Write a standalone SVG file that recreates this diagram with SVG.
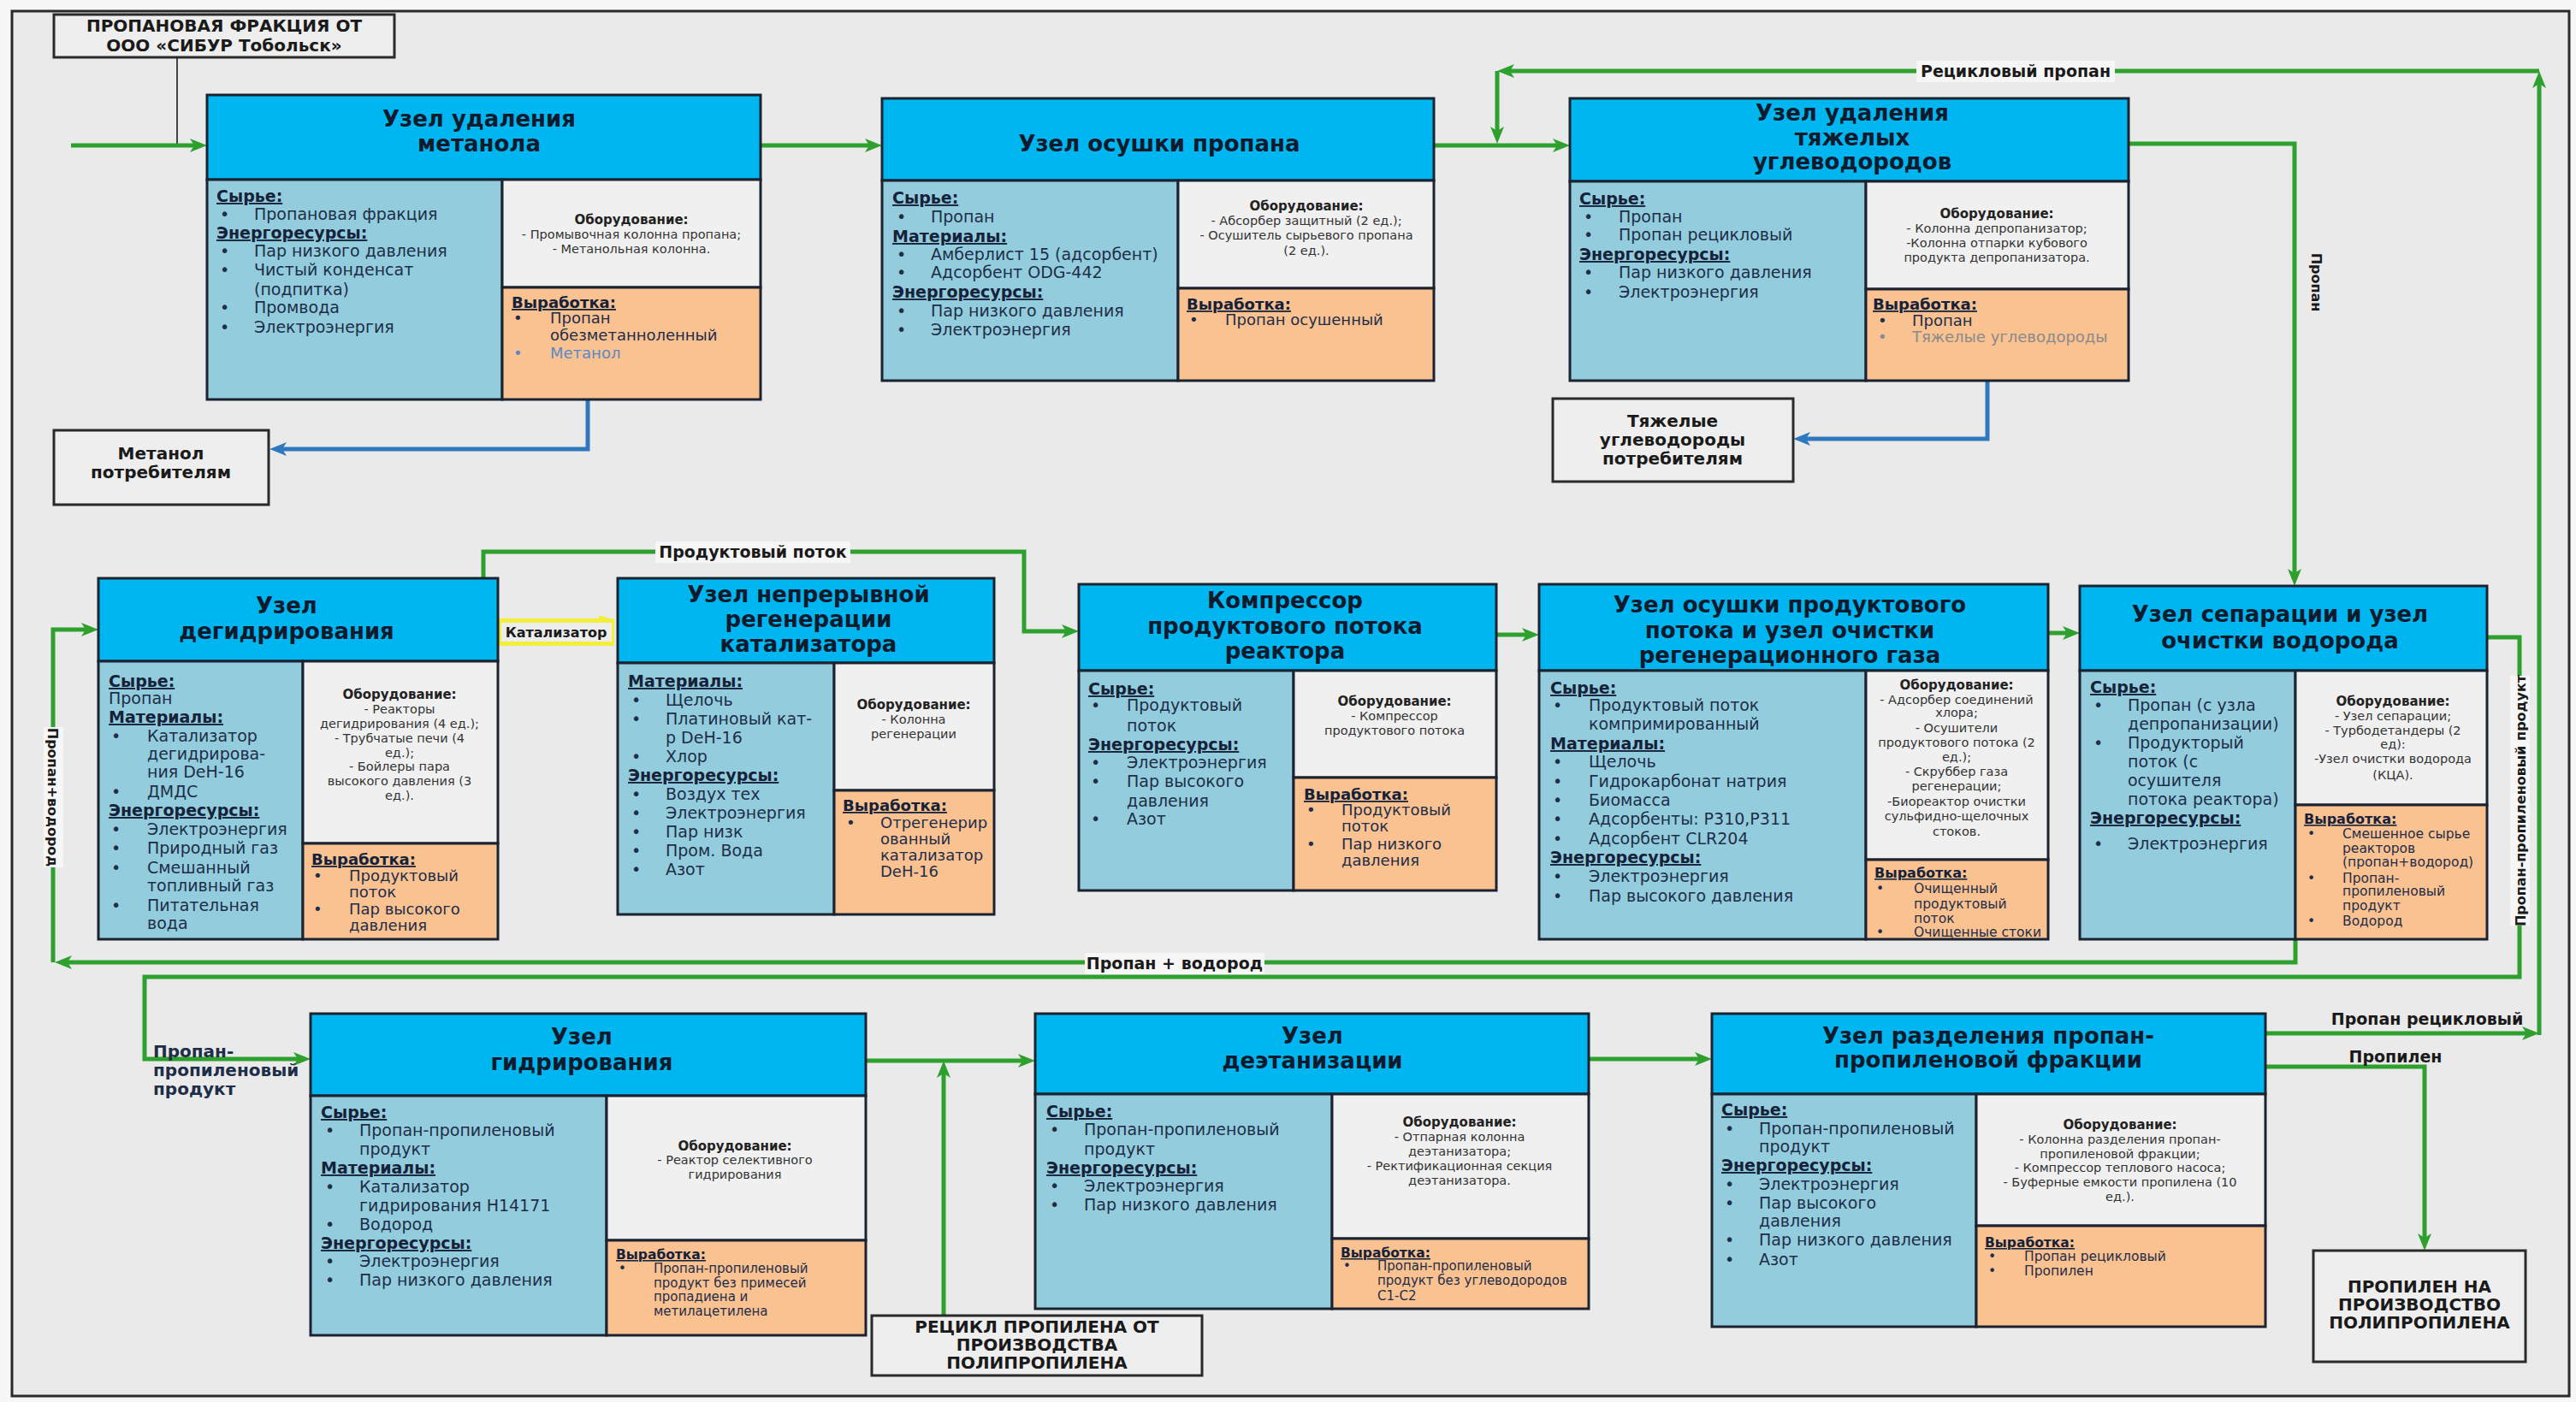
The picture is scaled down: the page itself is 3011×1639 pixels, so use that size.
<svg xmlns="http://www.w3.org/2000/svg" width="3011" height="1639" viewBox="0 0 3011 1639">
<defs>
<style>
.hd{fill:#00B6F1;stroke:#1b2230;stroke-width:3}
.rw{fill:#93CDDD;stroke:#1b2230;stroke-width:3}
.eq{fill:#F0F0F0;stroke:#1b2230;stroke-width:3}
.ou{fill:#FAC191;stroke:#1b2230;stroke-width:3}
.xb{fill:#EEEEEE;stroke:#2a2a2a;stroke-width:3}
text{font-family:"DejaVu Sans","Liberation Sans",sans-serif;fill:#1E2E48}
.ti{font-weight:bold;font-size:26px;text-anchor:middle;fill:#0F1A2C}
.b{font-size:19px}
.s{font-size:19px;font-weight:bold;text-decoration:underline;fill:#15223A}
.eh{font-size:15px;font-weight:bold;text-anchor:middle;fill:#222}
.e{font-size:14.5px;text-anchor:middle;fill:#333}
.oh{font-weight:bold;text-decoration:underline;fill:#15223A}
.xt{font-size:20px;font-weight:bold;text-anchor:middle;fill:#1a1a1a}
.cl{font-size:19px;font-weight:bold;text-anchor:middle;fill:#1a1a1a}
.cv{font-size:16px;font-weight:bold;text-anchor:middle;fill:#1a1a1a}
.g{fill:none;stroke:#2EA02E;stroke-width:5}
.bl{fill:none;stroke:#2E78C0;stroke-width:5}
.lb{fill:#F6F6F6}
</style>
<marker id="mg" viewBox="0 0 20 16" refX="8" refY="8" markerWidth="20" markerHeight="16" markerUnits="userSpaceOnUse" orient="auto"><path d="M0,0 L20,8 L0,16 L5,8 z" fill="#2EA02E"/></marker>
<marker id="mb" viewBox="0 0 20 16" refX="8" refY="8" markerWidth="20" markerHeight="16" markerUnits="userSpaceOnUse" orient="auto"><path d="M0,0 L20,8 L0,16 L5,8 z" fill="#2E78C0"/></marker>
</defs>
<rect x="0" y="0" width="3011" height="1639" fill="#F7F7F7"/>
<rect x="14" y="13" width="2989" height="1619" fill="#EAEAEA" stroke="#2a2a2a" stroke-width="3"/>

<g id="connectors">
<path d="M207,67 V170" fill="none" stroke="#444" stroke-width="2"/>
<path class="g" d="M83,170 H230" marker-end="url(#mg)"/>
<path class="g" d="M889,170 H1019" marker-end="url(#mg)"/>
<path class="g" d="M1676,170 H1823" marker-end="url(#mg)"/>
<path class="g" d="M2648,1208 H2956" marker-end="url(#mg)"/>
<path class="g" d="M2968,1210 V95" marker-end="url(#mg)"/>
<path class="g" d="M2968,83 H1762" marker-end="url(#mg)"/>
<path class="g" d="M1750,83 V156" marker-end="url(#mg)"/>
<rect class="lb" x="2240" y="71" width="232" height="25"/>
<text class="cl" x="2356" y="90">Рецикловый пропан</text>
<path class="g" d="M2488,168 H2682 V673" marker-end="url(#mg)"/>
<text class="cv" x="2708" y="336" transform="rotate(90 2708 330)">Пропан</text>
<path class="bl" d="M687,467 V525 H327" marker-end="url(#mb)"/>
<path class="bl" d="M2323,445 V513 H2108" marker-end="url(#mb)"/>
<path class="g" d="M565,676 V645 H1197 V738 H1249" marker-end="url(#mg)"/>
<rect class="lb" x="766" y="633" width="228" height="25"/>
<text class="cl" x="880" y="652">Продуктовый поток</text>
<rect x="583" y="723" width="135" height="32" fill="#F3EE3C"/>
<path d="M700,719 L718,725 L700,729 z" fill="#F3EE3C"/>
<rect x="586" y="728" width="129" height="22" fill="#EDEDED"/>
<text class="cv" x="650" y="745">Катализатор</text>
<path class="g" d="M1749,742 H1787" marker-end="url(#mg)"/>
<path class="g" d="M2394,740 H2419" marker-end="url(#mg)"/>
<path class="g" d="M2683,1098 V1125 H76" marker-end="url(#mg)"/>
<path class="g" d="M62,1125 V736 H103" marker-end="url(#mg)"/>
<rect class="lb" x="1268" y="1114" width="210" height="25"/>
<text class="cl" x="1373" y="1133">Пропан + водород</text>
<g transform="rotate(90 62 932)">
<rect class="lb" x="-20" y="920" width="164" height="23"/>
<text class="cv" x="62" y="938">Пропан+водород</text>
</g>
<path class="g" d="M2907,745 H2945 V1142 H169 V1238 H351" marker-end="url(#mg)"/>
<g transform="rotate(-90 2946 936)">
<rect class="lb" x="2800" y="924" width="292" height="23"/>
<text class="cv" x="2946" y="942">Пропан-пропиленовый продукт</text>
</g>
<text font-size="20" font-weight="bold" fill="#1a1a1a"><tspan x="179" y="1236">Пропан-</tspan><tspan x="179" y="1258">пропиленовый</tspan><tspan x="179" y="1280">продукт</tspan></text>
<path class="g" d="M1012,1240 H1198" marker-end="url(#mg)"/>
<path class="g" d="M1103,1538 V1252" marker-end="url(#mg)"/>
<path class="g" d="M1857,1238 H1989" marker-end="url(#mg)"/>
<path class="g" d="M2648,1247 H2834 V1450" marker-end="url(#mg)"/>
<text class="cl" x="2837" y="1198">Пропан рецикловый</text>
<text class="cl" x="2800" y="1242">Пропилен</text>
</g>

<g id="src">
<rect class="xb" x="63" y="17" width="398" height="50"/>
<text class="xt" font-size="20.5"><tspan x="262" y="37">ПРОПАНОВАЯ ФРАКЦИЯ ОТ</tspan><tspan x="262" y="60">ООО «СИБУР Тобольск»</tspan></text>
</g>
<g id="methanol-out">
<rect class="xb" x="63" y="503" width="251" height="87"/>
<text class="xt" font-size="19"><tspan x="188" y="537">Метанол</tspan><tspan x="188" y="559">потребителям</tspan></text>
</g>
<g id="heavy-out">
<rect class="xb" x="1815" y="466" width="281" height="97"/>
<text class="xt" font-size="19"><tspan x="1955" y="499">Тяжелые</tspan><tspan x="1955" y="521">углеводороды</tspan><tspan x="1955" y="543">потребителям</tspan></text>
</g>
<g id="recycle-in">
<rect class="xb" x="1019" y="1538" width="386" height="70"/>
<text class="xt"><tspan x="1212" y="1558">РЕЦИКЛ ПРОПИЛЕНА ОТ</tspan><tspan x="1212" y="1579">ПРОИЗВОДСТВА</tspan><tspan x="1212" y="1600">ПОЛИПРОПИЛЕНА</tspan></text>
</g>
<g id="propylene-out">
<rect class="xb" x="2704" y="1462" width="248" height="130"/>
<text class="xt"><tspan x="2828" y="1511">ПРОПИЛЕН НА</tspan><tspan x="2828" y="1532">ПРОИЗВОДСТВО</tspan><tspan x="2828" y="1553">ПОЛИПРОПИЛЕНА</tspan></text>
</g>

<g id="n1">
<rect class="hd" x="242" y="111" width="647" height="99"/>
<rect class="rw" x="242" y="210" width="345" height="257"/>
<rect class="eq" x="587" y="210" width="302" height="126"/>
<rect class="ou" x="587" y="336" width="302" height="131"/>
<text class="ti"><tspan x="560" y="148">Узел удаления</tspan><tspan x="560" y="177">метанола</tspan></text>
<text class="s" x="253" y="236">Сырье:</text>
<text class="b" y="257"><tspan x="257">•</tspan><tspan x="297">Пропановая фракция</tspan></text>
<text class="s" x="253" y="279">Энергоресурсы:</text>
<text class="b" y="300"><tspan x="257">•</tspan><tspan x="297">Пар низкого давления</tspan></text>
<text class="b" y="322"><tspan x="257">•</tspan><tspan x="297">Чистый конденсат</tspan></text>
<text class="b" x="297" y="345">(подпитка)</text>
<text class="b" y="366"><tspan x="257">•</tspan><tspan x="297">Промвода</tspan></text>
<text class="b" y="389"><tspan x="257">•</tspan><tspan x="297">Электроэнергия</tspan></text>
<text class="eh" x="738" y="262">Оборудование:</text>
<text class="e" x="738" y="279">- Промывочная колонна пропана;</text>
<text class="e" x="738" y="296">- Метанольная колонна.</text>
<text class="oh" font-size="18" x="598" y="360">Выработка:</text>
<text font-size="18" y="378"><tspan x="600">•</tspan><tspan x="643">Пропан</tspan></text>
<text font-size="18" x="643" y="398">обезметанноленный</text>
<text font-size="18" y="419" fill="#5A8AC6"><tspan x="600" fill="#5A8AC6">•</tspan><tspan x="643" fill="#5A8AC6">Метанол</tspan></text>
</g>

<g id="n2">
<rect class="hd" x="1031" y="115" width="645" height="96"/>
<rect class="rw" x="1031" y="211" width="346" height="234"/>
<rect class="eq" x="1377" y="211" width="299" height="126"/>
<rect class="ou" x="1377" y="337" width="299" height="108"/>
<text class="ti" x="1355" y="177">Узел осушки пропана</text>
<text class="s" x="1043" y="238">Сырье:</text>
<text class="b" y="260"><tspan x="1048">•</tspan><tspan x="1088">Пропан</tspan></text>
<text class="s" x="1043" y="283">Материалы:</text>
<text class="b" y="304"><tspan x="1048">•</tspan><tspan x="1088">Амберлист 15 (адсорбент)</tspan></text>
<text class="b" y="325"><tspan x="1048">•</tspan><tspan x="1088">Адсорбент ODG-442</tspan></text>
<text class="s" x="1043" y="348">Энергоресурсы:</text>
<text class="b" y="370"><tspan x="1048">•</tspan><tspan x="1088">Пар низкого давления</tspan></text>
<text class="b" y="392"><tspan x="1048">•</tspan><tspan x="1088">Электроэнергия</tspan></text>
<text class="eh" x="1527" y="246">Оборудование:</text>
<text class="e" x="1527" y="263">- Абсорбер защитный (2 ед.);</text>
<text class="e" x="1527" y="280">- Осушитель сырьевого пропана</text>
<text class="e" x="1527" y="298">(2 ед.).</text>
<text class="oh" font-size="18" x="1387" y="362">Выработка:</text>
<text font-size="18" y="380"><tspan x="1390">•</tspan><tspan x="1432">Пропан осушенный</tspan></text>
</g>

<g id="n3">
<rect class="hd" x="1835" y="115" width="653" height="97"/>
<rect class="rw" x="1835" y="212" width="346" height="233"/>
<rect class="eq" x="2181" y="212" width="307" height="126"/>
<rect class="ou" x="2181" y="338" width="307" height="107"/>
<text class="ti"><tspan x="2165" y="141">Узел удаления</tspan><tspan x="2165" y="170">тяжелых</tspan><tspan x="2165" y="198">углеводородов</tspan></text>
<text class="s" x="1846" y="239">Сырье:</text>
<text class="b" y="260"><tspan x="1851">•</tspan><tspan x="1892">Пропан</tspan></text>
<text class="b" y="281"><tspan x="1851">•</tspan><tspan x="1892">Пропан рецикловый</tspan></text>
<text class="s" x="1846" y="304">Энергоресурсы:</text>
<text class="b" y="325"><tspan x="1851">•</tspan><tspan x="1892">Пар низкого давления</tspan></text>
<text class="b" y="348"><tspan x="1851">•</tspan><tspan x="1892">Электроэнергия</tspan></text>
<text class="eh" x="2334" y="255">Оборудование:</text>
<text class="e" x="2334" y="272">- Колонна депропанизатор;</text>
<text class="e" x="2334" y="289">-Колонна отпарки кубового</text>
<text class="e" x="2334" y="306">продукта депропанизатора.</text>
<text class="oh" font-size="18" x="2189" y="362">Выработка:</text>
<text font-size="18" y="381"><tspan x="2195">•</tspan><tspan x="2235">Пропан</tspan></text>
<text font-size="18" y="400"><tspan x="2195" fill="#8A8A8A">•</tspan><tspan x="2235" fill="#8A8A8A">Тяжелые углеводороды</tspan></text>
</g>

<g id="n4">
<rect class="hd" x="115" y="676" width="467" height="97"/>
<rect class="rw" x="115" y="773" width="239" height="325"/>
<rect class="eq" x="354" y="773" width="228" height="213"/>
<rect class="ou" x="354" y="986" width="228" height="112"/>
<text class="ti"><tspan x="335" y="717">Узел</tspan><tspan x="335" y="747">дегидрирования</tspan></text>
<text class="s" x="127" y="803">Сырье:</text>
<text class="b" x="127" y="823">Пропан</text>
<text class="s" x="127" y="845">Материалы:</text>
<text class="b" y="867"><tspan x="130">•</tspan><tspan x="172">Катализатор</tspan></text>
<text class="b" x="172" y="888">дегидрирова-</text>
<text class="b" x="172" y="909">ния DeH-16</text>
<text class="b" y="932"><tspan x="130">•</tspan><tspan x="172">ДМДС</tspan></text>
<text class="s" x="127" y="954">Энергоресурсы:</text>
<text class="b" y="976"><tspan x="130">•</tspan><tspan x="172">Электроэнергия</tspan></text>
<text class="b" y="998"><tspan x="130">•</tspan><tspan x="172">Природный газ</tspan></text>
<text class="b" y="1021"><tspan x="130">•</tspan><tspan x="172">Смешанный</tspan></text>
<text class="b" x="172" y="1042">топливный газ</text>
<text class="b" y="1065"><tspan x="130">•</tspan><tspan x="172">Питательная</tspan></text>
<text class="b" x="172" y="1086">вода</text>
<text class="eh" x="467" y="817">Оборудование:</text>
<text class="e" x="467" y="834">- Реакторы</text>
<text class="e" x="467" y="851">дегидрирования (4 ед.);</text>
<text class="e" x="467" y="868">- Трубчатые печи (4</text>
<text class="e" x="467" y="885">ед.);</text>
<text class="e" x="467" y="901">- Бойлеры пара</text>
<text class="e" x="467" y="918">высокого давления (3</text>
<text class="e" x="467" y="935">ед.).</text>
<text class="oh" font-size="18" x="364" y="1011">Выработка:</text>
<text font-size="18" y="1030"><tspan x="366">•</tspan><tspan x="408">Продуктовый</tspan></text>
<text font-size="18" x="408" y="1049">поток</text>
<text font-size="18" y="1069"><tspan x="366">•</tspan><tspan x="408">Пар высокого</tspan></text>
<text font-size="18" x="408" y="1088">давления</text>
</g>

<g id="n5">
<rect class="hd" x="722" y="676" width="440" height="99"/>
<rect class="rw" x="722" y="775" width="253" height="294"/>
<rect class="eq" x="975" y="775" width="187" height="149"/>
<rect class="ou" x="975" y="924" width="187" height="145"/>
<text class="ti"><tspan x="945" y="704">Узел непрерывной</tspan><tspan x="945" y="733">регенерации</tspan><tspan x="945" y="762">катализатора</tspan></text>
<text class="s" x="734" y="803">Материалы:</text>
<text class="b" y="825"><tspan x="738">•</tspan><tspan x="778">Щелочь</tspan></text>
<text class="b" y="847"><tspan x="738">•</tspan><tspan x="778">Платиновый кат-</tspan></text>
<text class="b" x="778" y="869">р DeH-16</text>
<text class="b" y="891"><tspan x="738">•</tspan><tspan x="778">Хлор</tspan></text>
<text class="s" x="734" y="913">Энергоресурсы:</text>
<text class="b" y="935"><tspan x="738">•</tspan><tspan x="778">Воздух тех</tspan></text>
<text class="b" y="957"><tspan x="738">•</tspan><tspan x="778">Электроэнергия</tspan></text>
<text class="b" y="979"><tspan x="738">•</tspan><tspan x="778">Пар низк</tspan></text>
<text class="b" y="1001"><tspan x="738">•</tspan><tspan x="778">Пром. Вода</tspan></text>
<text class="b" y="1023"><tspan x="738">•</tspan><tspan x="778">Азот</tspan></text>
<text class="eh" x="1068" y="829">Оборудование:</text>
<text class="e" x="1068" y="846">- Колонна</text>
<text class="e" x="1068" y="863">регенерации</text>
<text class="oh" font-size="18" x="985" y="948">Выработка:</text>
<text font-size="18" y="968"><tspan x="989">•</tspan><tspan x="1029">Отрегенерир</tspan></text>
<text font-size="18" x="1029" y="987">ованный</text>
<text font-size="18" x="1029" y="1006">катализатор</text>
<text font-size="18" x="1029" y="1025">DeH-16</text>
</g>

<g id="n6">
<rect class="hd" x="1261" y="683" width="488" height="101"/>
<rect class="rw" x="1261" y="784" width="251" height="257"/>
<rect class="eq" x="1512" y="784" width="237" height="125"/>
<rect class="ou" x="1512" y="909" width="237" height="132"/>
<text class="ti"><tspan x="1502" y="711">Компрессор</tspan><tspan x="1502" y="741">продуктового потока</tspan><tspan x="1502" y="770">реактора</tspan></text>
<text class="s" x="1272" y="812">Сырье:</text>
<text class="b" y="831"><tspan x="1275">•</tspan><tspan x="1317">Продуктовый</tspan></text>
<text class="b" x="1317" y="855">поток</text>
<text class="s" x="1272" y="877">Энергоресурсы:</text>
<text class="b" y="898"><tspan x="1275">•</tspan><tspan x="1317">Электроэнергия</tspan></text>
<text class="b" y="920"><tspan x="1275">•</tspan><tspan x="1317">Пар высокого</tspan></text>
<text class="b" x="1317" y="943">давления</text>
<text class="b" y="964"><tspan x="1275">•</tspan><tspan x="1317">Азот</tspan></text>
<text class="eh" x="1630" y="825">Оборудование:</text>
<text class="e" x="1630" y="842">- Компрессор</text>
<text class="e" x="1630" y="859">продуктового потока</text>
<text class="oh" font-size="18" x="1524" y="935">Выработка:</text>
<text font-size="18" y="953"><tspan x="1527">•</tspan><tspan x="1568">Продуктовый</tspan></text>
<text font-size="18" x="1568" y="972">поток</text>
<text font-size="18" y="993"><tspan x="1527">•</tspan><tspan x="1568">Пар низкого</tspan></text>
<text font-size="18" x="1568" y="1012">давления</text>
</g>

<g id="n7">
<rect class="hd" x="1799" y="683" width="595" height="101"/>
<rect class="rw" x="1799" y="784" width="382" height="314"/>
<rect class="eq" x="2181" y="784" width="213" height="221"/>
<rect class="ou" x="2181" y="1005" width="213" height="93"/>
<text class="ti"><tspan x="2092" y="716">Узел осушки продуктового</tspan><tspan x="2092" y="746">потока и узел очистки</tspan><tspan x="2092" y="775">регенерационного газа</tspan></text>
<text class="s" x="1812" y="811">Сырье:</text>
<text class="b" y="831"><tspan x="1815">•</tspan><tspan x="1857">Продуктовый поток</tspan></text>
<text class="b" x="1857" y="853">компримированный</text>
<text class="s" x="1812" y="876">Материалы:</text>
<text class="b" y="897"><tspan x="1815">•</tspan><tspan x="1857">Щелочь</tspan></text>
<text class="b" y="920"><tspan x="1815">•</tspan><tspan x="1857">Гидрокарбонат натрия</tspan></text>
<text class="b" y="942"><tspan x="1815">•</tspan><tspan x="1857">Биомасса</tspan></text>
<text class="b" y="964"><tspan x="1815">•</tspan><tspan x="1857">Адсорбенты: P310,P311</tspan></text>
<text class="b" y="987"><tspan x="1815">•</tspan><tspan x="1857">Адсорбент CLR204</tspan></text>
<text class="s" x="1812" y="1009">Энергоресурсы:</text>
<text class="b" y="1031"><tspan x="1815">•</tspan><tspan x="1857">Электроэнергия</tspan></text>
<text class="b" y="1054"><tspan x="1815">•</tspan><tspan x="1857">Пар высокого давления</tspan></text>
<text class="eh" x="2287" y="806">Оборудование:</text>
<text class="e" x="2287" y="823">- Адсорбер соединений</text>
<text class="e" x="2287" y="838">хлора;</text>
<text class="e" x="2287" y="856">- Осушители</text>
<text class="e" x="2287" y="873">продуктового потока (2</text>
<text class="e" x="2287" y="890">ед.);</text>
<text class="e" x="2287" y="907">- Скруббер газа</text>
<text class="e" x="2287" y="924">регенерации;</text>
<text class="e" x="2287" y="942">-Биореактор очистки</text>
<text class="e" x="2287" y="959">сульфидно-щелочных</text>
<text class="e" x="2287" y="977">стоков.</text>
<text class="oh" font-size="16" x="2191" y="1026">Выработка:</text>
<text font-size="15.5" y="1044"><tspan x="2193">•</tspan><tspan x="2237">Очищенный</tspan></text>
<text font-size="15.5" x="2237" y="1062">продуктовый</text>
<text font-size="15.5" x="2237" y="1079">поток</text>
<text font-size="15.5" y="1095"><tspan x="2193">•</tspan><tspan x="2237">Очищенные стоки</tspan></text>
</g>

<g id="n8">
<rect class="hd" x="2431" y="685" width="476" height="99"/>
<rect class="rw" x="2431" y="784" width="252" height="314"/>
<rect class="eq" x="2683" y="784" width="224" height="157"/>
<rect class="ou" x="2683" y="941" width="224" height="157"/>
<text class="ti"><tspan x="2665" y="727">Узел сепарации и узел</tspan><tspan x="2665" y="758">очистки водорода</tspan></text>
<text class="s" x="2443" y="810">Сырье:</text>
<text class="b" y="831"><tspan x="2447">•</tspan><tspan x="2487">Пропан (с узла</tspan></text>
<text class="b" x="2487" y="853">депропанизации)</text>
<text class="b" y="875"><tspan x="2447">•</tspan><tspan x="2487">Продукторый</tspan></text>
<text class="b" x="2487" y="897">поток (с</text>
<text class="b" x="2487" y="919">осушителя</text>
<text class="b" x="2487" y="941">потока реактора)</text>
<text class="s" x="2443" y="963">Энергоресурсы:</text>
<text class="b" y="993"><tspan x="2447">•</tspan><tspan x="2487">Электроэнергия</tspan></text>
<text class="eh" x="2797" y="825">Оборудование:</text>
<text class="e" x="2797" y="842">- Узел сепарации;</text>
<text class="e" x="2797" y="859">- Турбодетандеры (2</text>
<text class="e" x="2797" y="875">ед):</text>
<text class="e" x="2797" y="892">-Узел очистки водорода</text>
<text class="e" x="2797" y="911">(КЦА).</text>
<text class="oh" font-size="16" x="2693" y="963">Выработка:</text>
<text font-size="15.5" y="980"><tspan x="2697">•</tspan><tspan x="2738">Смешенное сырье</tspan></text>
<text font-size="15.5" x="2738" y="997">реакторов</text>
<text font-size="15.5" x="2738" y="1013">(пропан+водород)</text>
<text font-size="15.5" y="1032"><tspan x="2697">•</tspan><tspan x="2738">Пропан-</tspan></text>
<text font-size="15.5" x="2738" y="1047">пропиленовый</text>
<text font-size="15.5" x="2738" y="1064">продукт</text>
<text font-size="15.5" y="1082"><tspan x="2697">•</tspan><tspan x="2738">Водород</tspan></text>
</g>

<g id="n9">
<rect class="hd" x="363" y="1185" width="649" height="96"/>
<rect class="rw" x="363" y="1281" width="346" height="280"/>
<rect class="eq" x="709" y="1281" width="303" height="169"/>
<rect class="ou" x="709" y="1450" width="303" height="111"/>
<text class="ti"><tspan x="680" y="1221">Узел</tspan><tspan x="680" y="1251">гидрирования</tspan></text>
<text class="s" x="375" y="1307">Сырье:</text>
<text class="b" y="1328"><tspan x="380">•</tspan><tspan x="420">Пропан-пропиленовый</tspan></text>
<text class="b" x="420" y="1350">продукт</text>
<text class="s" x="375" y="1372">Материалы:</text>
<text class="b" y="1394"><tspan x="380">•</tspan><tspan x="420">Катализатор</tspan></text>
<text class="b" x="420" y="1416">гидрирования H14171</text>
<text class="b" y="1438"><tspan x="380">•</tspan><tspan x="420">Водород</tspan></text>
<text class="s" x="375" y="1460">Энергоресурсы:</text>
<text class="b" y="1481"><tspan x="380">•</tspan><tspan x="420">Электроэнергия</tspan></text>
<text class="b" y="1503"><tspan x="380">•</tspan><tspan x="420">Пар низкого давления</tspan></text>
<text class="eh" x="859" y="1345">Оборудование:</text>
<text class="e" x="859" y="1361">- Реактор селективного</text>
<text class="e" x="859" y="1378">гидрирования</text>
<text class="oh" font-size="15.5" x="720" y="1472">Выработка:</text>
<text font-size="15" y="1488"><tspan x="723">•</tspan><tspan x="764">Пропан-пропиленовый</tspan></text>
<text font-size="15" x="764" y="1505">продукт без примесей</text>
<text font-size="15" x="764" y="1521">пропадиена и</text>
<text font-size="15" x="764" y="1538">метилацетилена</text>
</g>

<g id="n10">
<rect class="hd" x="1210" y="1185" width="647" height="94"/>
<rect class="rw" x="1210" y="1279" width="347" height="251"/>
<rect class="eq" x="1557" y="1279" width="300" height="169"/>
<rect class="ou" x="1557" y="1448" width="300" height="82"/>
<text class="ti"><tspan x="1534" y="1220">Узел</tspan><tspan x="1534" y="1249">деэтанизации</tspan></text>
<text class="s" x="1223" y="1306">Сырье:</text>
<text class="b" y="1327"><tspan x="1227">•</tspan><tspan x="1267">Пропан-пропиленовый</tspan></text>
<text class="b" x="1267" y="1350">продукт</text>
<text class="s" x="1223" y="1372">Энергоресурсы:</text>
<text class="b" y="1393"><tspan x="1227">•</tspan><tspan x="1267">Электроэнергия</tspan></text>
<text class="b" y="1415"><tspan x="1227">•</tspan><tspan x="1267">Пар низкого давления</tspan></text>
<text class="eh" x="1706" y="1317">Оборудование:</text>
<text class="e" x="1706" y="1334">- Отпарная колонна</text>
<text class="e" x="1706" y="1351">деэтанизатора;</text>
<text class="e" x="1706" y="1368">- Ректификационная секция</text>
<text class="e" x="1706" y="1385">деэтанизатора.</text>
<text class="oh" font-size="15.5" x="1567" y="1470">Выработка:</text>
<text font-size="15" y="1485"><tspan x="1570">•</tspan><tspan x="1610">Пропан-пропиленовый</tspan></text>
<text font-size="15" x="1610" y="1502">продукт без углеводородов</text>
<text font-size="15" x="1610" y="1520">C1-C2</text>
</g>

<g id="n11">
<rect class="hd" x="2001" y="1185" width="647" height="94"/>
<rect class="rw" x="2001" y="1279" width="309" height="272"/>
<rect class="eq" x="2310" y="1279" width="338" height="154"/>
<rect class="ou" x="2310" y="1433" width="338" height="118"/>
<text class="ti"><tspan x="2324" y="1220">Узел разделения пропан-</tspan><tspan x="2324" y="1248">пропиленовой фракции</tspan></text>
<text class="s" x="2012" y="1304">Сырье:</text>
<text class="b" y="1326"><tspan x="2016">•</tspan><tspan x="2056">Пропан-пропиленовый</tspan></text>
<text class="b" x="2056" y="1347">продукт</text>
<text class="s" x="2012" y="1369">Энергоресурсы:</text>
<text class="b" y="1391"><tspan x="2016">•</tspan><tspan x="2056">Электроэнергия</tspan></text>
<text class="b" y="1413"><tspan x="2016">•</tspan><tspan x="2056">Пар высокого</tspan></text>
<text class="b" x="2056" y="1434">давления</text>
<text class="b" y="1456"><tspan x="2016">•</tspan><tspan x="2056">Пар низкого давления</tspan></text>
<text class="b" y="1479"><tspan x="2016">•</tspan><tspan x="2056">Азот</tspan></text>
<text class="eh" x="2478" y="1320">Оборудование:</text>
<text class="e" x="2478" y="1337">- Колонна разделения пропан-</text>
<text class="e" x="2478" y="1354">пропиленовой фракции;</text>
<text class="e" x="2478" y="1370">- Компрессор теплового насоса;</text>
<text class="e" x="2478" y="1387">- Буферные емкости пропилена (10</text>
<text class="e" x="2478" y="1404">ед.).</text>
<text class="oh" font-size="15.5" x="2320" y="1458">Выработка:</text>
<text font-size="15.5" y="1474"><tspan x="2324">•</tspan><tspan x="2366">Пропан рецикловый</tspan></text>
<text font-size="15.5" y="1491"><tspan x="2324">•</tspan><tspan x="2366">Пропилен</tspan></text>
</g>
</svg>
